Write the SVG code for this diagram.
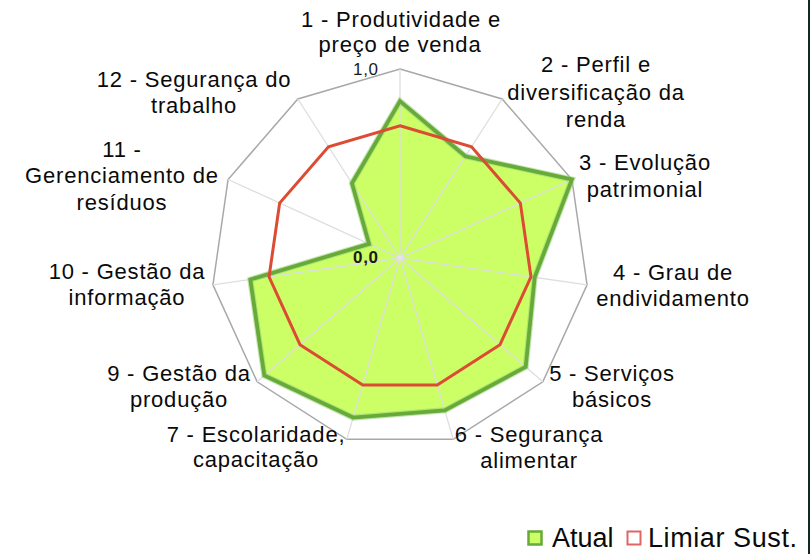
<svg xmlns="http://www.w3.org/2000/svg" width="810" height="554" viewBox="0 0 810 554">
<style>
.lbl{font-family:"Liberation Sans",Arial,sans-serif;font-size:22px;letter-spacing:0.8px;text-anchor:middle;fill:#0a0a0a}
.tick{font-family:"Liberation Sans",Arial,sans-serif;font-size:17px;fill:#1a1a1a}
.leg{font-family:"Liberation Sans",Arial,sans-serif;font-size:27px;fill:#0a0a0a}
.spoke{stroke:#dedede;stroke-width:1.3;fill:none}
</style>
<rect x="0" y="0" width="810" height="554" fill="#ffffff"/>
<rect x="808" y="0" width="2" height="554" fill="#0f2a20"/>
<g id="grid">
<polygon points="400,69 502.18,99 571.92,179.49 587.08,284.9 542.84,381.77 453.25,439.34 346.75,439.34 257.16,381.77 212.92,284.9 228.08,179.49 297.82,99" fill="none" stroke="#a8a8a8" stroke-width="1.5"/>
</g>
<g id="series-atual-fill">
<polygon points="400,101.1 465.4,156.24 571.92,179.49 534.69,277.37 525.7,366.92 444.73,410.33 353.14,417.58 264.3,375.58 250.34,279.52 369.05,243.87 351.97,183.27" fill="#ccff66" stroke="none"/>
</g>
<g id="spokes" class="spoke">
<line x1="400" y1="258" x2="400" y2="69"/>
<line x1="400" y1="258" x2="502.18" y2="99"/>
<line x1="400" y1="258" x2="571.92" y2="179.49"/>
<line x1="400" y1="258" x2="587.08" y2="284.9"/>
<line x1="400" y1="258" x2="542.84" y2="381.77"/>
<line x1="400" y1="258" x2="453.25" y2="439.34"/>
<line x1="400" y1="258" x2="346.75" y2="439.34"/>
<line x1="400" y1="258" x2="257.16" y2="381.77"/>
<line x1="400" y1="258" x2="212.92" y2="284.9"/>
<line x1="400" y1="258" x2="228.08" y2="179.49"/>
<line x1="400" y1="258" x2="297.82" y2="99"/>
</g>
<circle cx="400" cy="258" r="3" fill="#e4e4e4"/>
<g id="series-atual-line">
<polygon points="400,101.1 465.4,156.24 571.92,179.49 534.69,277.37 525.7,366.92 444.73,410.33 353.14,417.58 264.3,375.58 250.34,279.52 369.05,243.87 351.97,183.27" fill="none" stroke="#9fd27a" stroke-width="6" stroke-linejoin="miter" opacity="0.6"/>
<polygon points="400,101.1 465.4,156.24 571.92,179.49 534.69,277.37 525.7,366.92 444.73,410.33 353.14,417.58 264.3,375.58 250.34,279.52 369.05,243.87 351.97,183.27" fill="none" stroke="#66aa3a" stroke-width="3.8" stroke-linejoin="miter"/>
</g>
<g id="series-limiar">
<polygon points="400,125.7 471.53,146.7 520.34,203.04 530.95,276.83 499.99,344.64 437.27,384.94 362.73,384.94 300.01,344.64 269.05,276.83 279.66,203.04 328.47,146.7" fill="none" stroke="#dc4b33" stroke-width="3" stroke-linejoin="miter"/>
</g>
<g id="ticks">
<text class="tick" x="353" y="75" textLength="25" lengthAdjust="spacing">1,0</text>
<text class="tick" x="353" y="263" font-weight="bold" textLength="25" lengthAdjust="spacing">0,0</text>
</g>
<g id="label-1"><text class="lbl" x="401" y="27">1 - Produtividade e</text><text class="lbl" x="400" y="52">preço de venda</text></g>
<g id="label-2"><text class="lbl" x="596" y="72">2 - Perfil e</text><text class="lbl" x="596" y="100">diversificação da</text><text class="lbl" x="596" y="127">renda</text></g>
<g id="label-3"><text class="lbl" x="645" y="170">3 - Evolução</text><text class="lbl" x="645" y="197">patrimonial</text></g>
<g id="label-4"><text class="lbl" x="673" y="280">4 - Grau de</text><text class="lbl" x="673" y="306">endividamento</text></g>
<g id="label-5"><text class="lbl" x="612" y="381">5 - Serviços</text><text class="lbl" x="612" y="407">básicos</text></g>
<g id="label-6"><text class="lbl" x="529" y="442">6 - Segurança</text><text class="lbl" x="529" y="468">alimentar</text></g>
<g id="label-7"><text class="lbl" x="256" y="442">7 - Escolaridade,</text><text class="lbl" x="256" y="467">capacitação</text></g>
<g id="label-9"><text class="lbl" x="179" y="381">9 - Gestão da</text><text class="lbl" x="179" y="407">produção</text></g>
<g id="label-10"><text class="lbl" x="127" y="279">10 - Gestão da</text><text class="lbl" x="127" y="305">informação</text></g>
<g id="label-11"><text class="lbl" x="122" y="157">11 -</text><text class="lbl" x="122" y="183">Gerenciamento de</text><text class="lbl" x="122" y="210">resíduos</text></g>
<g id="label-12"><text class="lbl" x="194" y="87">12 - Segurança do</text><text class="lbl" x="194" y="113">trabalho</text></g>
<g id="legend">
<rect x="528.5" y="531.5" width="13" height="13" fill="#ccff66" stroke="#66aa3a" stroke-width="2.5"/>
<text class="leg" x="552" y="547">Atual</text>
<rect x="627.5" y="531.5" width="13" height="13" fill="#ffffff" stroke="#e06464" stroke-width="2"/>
<text class="leg" x="648" y="547" textLength="149" lengthAdjust="spacing">Limiar Sust.</text>
</g>
</svg>
